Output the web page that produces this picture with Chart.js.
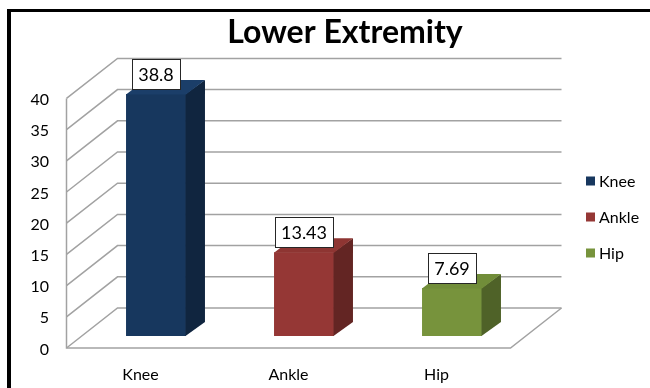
<!DOCTYPE html>
<html>
<head>
<meta charset="utf-8">
<script src="https://cdn.jsdelivr.net/npm/chart.js@4/dist/chart.umd.min.js"></script>
<style>
  html, body { margin: 0; padding: 0; background: #fff; overflow: hidden; }
  #wrap { position: relative; width: 650px; height: 388px; }
</style>
</head>
<body>
<div id="wrap"><canvas id="c" width="650" height="388"></canvas></div>
<script>
// Chart data
const chartTitle = 'Lower Extremity';
const categories = ['Knee', 'Ankle', 'Hip'];
const values = [38.8, 13.43, 7.69];
const valueLabels = ['38.8', '13.43', '7.69'];
const yTicks = [0, 5, 10, 15, 20, 25, 30, 35, 40];

// Face colours per bar
const frontColors = ['#17375E', '#953735', '#77933C'];
const sideColors = ['#10253F', '#632523', '#4F6228'];
const topColors = ['#1B3E69', '#8E3532', '#718D39'];

// 3D projection offsets (pixels) relative to the plane of the bar fronts
const BAR_DEPTH = { dx: 19, dy: -14 };
const FRONT_PLANE = { dx: -15.5, dy: 12 };
const BACK_PLANE = { dx: 35.5, dy: -28 };

const FONT = 'Lato, "Open Sans", "DejaVu Sans", sans-serif';
const GRID = '#a2a2a2';

const threeD = {
  id: 'threeD',
  beforeDatasetsDraw(chart) {
    const { ctx, chartArea: a, scales: { y } } = chart;
    ctx.save();

    // outer frame (top and left edges of the chart border)
    ctx.fillStyle = '#000';
    ctx.fillRect(7, 9, 650, 3);
    ctx.fillRect(7, 9, 4, 400);

    // title
    ctx.fillStyle = '#000';
    ctx.textAlign = 'center';
    ctx.textBaseline = 'alphabetic';
    let size = 30;
    ctx.font = 'bold ' + size + 'px ' + FONT;
    const w = ctx.measureText(chartTitle).width;
    size = Math.max(22, Math.min(32, size * 236 / w));
    ctx.font = 'bold ' + size + 'px ' + FONT;
    ctx.fillText(chartTitle, 345, 43);

    // walls: gridlines run along the left wall and across the back wall
    ctx.strokeStyle = GRID;
    ctx.lineWidth = 1.5;
    ctx.lineJoin = 'miter';
    yTicks.forEach(v => {
      const py = y.getPixelForValue(v);
      ctx.beginPath();
      ctx.moveTo(a.left + FRONT_PLANE.dx, py + FRONT_PLANE.dy);
      ctx.lineTo(a.left + BACK_PLANE.dx, py + BACK_PLANE.dy);
      ctx.lineTo(a.right + BACK_PLANE.dx, py + BACK_PLANE.dy);
      ctx.stroke();
    });
    const yTop = y.getPixelForValue(yTicks[yTicks.length - 1]);
    const y0 = y.getPixelForValue(0);
    // left wall front edge
    ctx.beginPath();
    ctx.moveTo(a.left + FRONT_PLANE.dx, yTop + FRONT_PLANE.dy);
    ctx.lineTo(a.left + FRONT_PLANE.dx, y0 + FRONT_PLANE.dy);
    // floor front and right edges
    ctx.lineTo(a.right + FRONT_PLANE.dx, y0 + FRONT_PLANE.dy);
    ctx.lineTo(a.right + BACK_PLANE.dx, y0 + BACK_PLANE.dy);
    ctx.stroke();

    // value axis labels
    ctx.fillStyle = '#000';
    ctx.font = '16px ' + FONT;
    ctx.textAlign = 'right';
    ctx.textBaseline = 'middle';
    yTicks.forEach(v => {
      ctx.fillText(String(v), 49, y.getPixelForValue(v) + FRONT_PLANE.dy + 1.5);
    });

    // category labels
    const meta = chart.getDatasetMeta(0);
    ctx.textAlign = 'center';
    ctx.textBaseline = 'alphabetic';
    meta.data.forEach((bar, i) => {
      ctx.fillText(categories[i], bar.x + FRONT_PLANE.dx, 380);
    });

    // legend
    ctx.textAlign = 'left';
    ctx.textBaseline = 'middle';
    categories.forEach((c, i) => {
      const cy = 181 + i * 36;
      ctx.fillStyle = frontColors[i];
      ctx.fillRect(586, cy - 4.5, 9, 9);
      ctx.fillStyle = '#000';
      ctx.fillText(c, 599, cy + 0.5);
    });

    ctx.restore();
  },
  afterDatasetsDraw(chart) {
    const { ctx } = chart;
    const meta = chart.getDatasetMeta(0);
    ctx.save();
    meta.data.forEach((bar, i) => {
      const x1 = bar.x - bar.width / 2;
      const x2 = bar.x + bar.width / 2;
      const top = bar.y;
      const bottom = bar.base;
      const dx = BAR_DEPTH.dx, dy = BAR_DEPTH.dy;

      // side face
      ctx.fillStyle = sideColors[i];
      ctx.beginPath();
      ctx.moveTo(x2 - 0.5, top);
      ctx.lineTo(x2 + dx, top + dy);
      ctx.lineTo(x2 + dx, bottom + dy);
      ctx.lineTo(x2 - 0.5, bottom);
      ctx.closePath();
      ctx.fill();

      // top face
      ctx.fillStyle = topColors[i];
      ctx.beginPath();
      ctx.moveTo(x1, top + 0.5);
      ctx.lineTo(x2, top + 0.5);
      ctx.lineTo(x2 + dx, top + dy);
      ctx.lineTo(x1 + dx, top + dy);
      ctx.closePath();
      ctx.fill();

      // value label box
      ctx.font = '18px ' + FONT;
      const tw = ctx.measureText(valueLabels[i]).width;
      const bw = Math.round(tw + 12);
      const bh = 30;
      const bx = Math.round(bar.x - bw / 2) + 0.5;
      const by = Math.round(top - 5 - bh) + 0.5;
      ctx.fillStyle = '#fff';
      ctx.fillRect(bx, by, bw, bh);
      ctx.strokeStyle = '#262626';
      ctx.lineWidth = 1;
      ctx.strokeRect(bx, by, bw, bh);
      ctx.fillStyle = '#000';
      ctx.textAlign = 'center';
      ctx.textBaseline = 'middle';
      ctx.fillText(valueLabels[i], bar.x, by + bh / 2 + 1);
    });
    ctx.restore();
  }
};

new Chart(document.getElementById('c'), {
  type: 'bar',
  data: {
    labels: categories,
    datasets: [{
      data: values,
      backgroundColor: frontColors,
      borderWidth: 0,
      barPercentage: 0.405,
      categoryPercentage: 1
    }]
  },
  options: {
    responsive: false,
    animation: false,
    devicePixelRatio: 1,
    layout: { padding: { left: 82, right: 124, top: 86.4, bottom: 52 } },
    scales: {
      x: { display: false },
      y: { display: false, min: 0, max: 40 }
    },
    plugins: {
      legend: { display: false },
      title: { display: false },
      tooltip: { enabled: false }
    }
  },
  plugins: [threeD]
});
</script>
</body>
</html>
